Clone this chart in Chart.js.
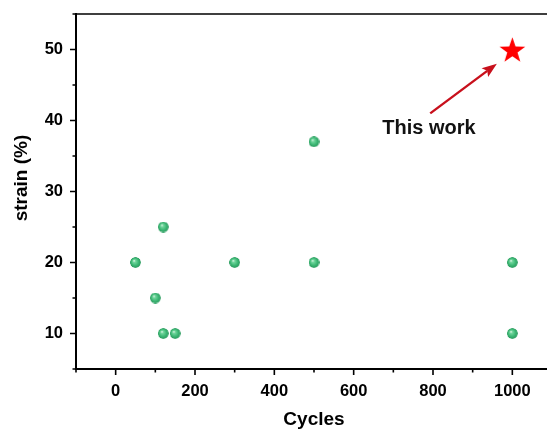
<!DOCTYPE html>
<html>
<head>
<meta charset="utf-8">
<script src="https://cdn.jsdelivr.net/npm/chart.js@4/dist/chart.umd.min.js"></script>
<style>
  html, body { margin: 0; padding: 0; background: #fff; overflow: hidden; }
  #wrap { width: 547px; height: 432px; overflow: hidden; position: relative; }
  #inner { width: 556px; height: 432px; position: absolute; left: 0; top: 0; }
  canvas { display: block; width: 556px; height: 432px; }
</style>
</head>
<body>
<div id="wrap"><div id="inner"><canvas id="c" width="556" height="432"></canvas></div></div>
<script>
// Reported cycle life vs. strain
const cycles = [50, 100, 120, 120, 150, 300, 500, 500, 1000, 1000];
const strain = [20, 15, 25, 10, 10, 20, 37, 20, 20, 10];

// Present result
const workCycles = [1000];
const workStrain = [50];

// Axis ticks
const xMajor = [0, 200, 400, 600, 800, 1000];
const xMinor = [-100, 100, 300, 500, 700, 900, 1100];
const yMajor = [10, 20, 30, 40, 50];
const yMinor = [5, 15, 25, 35, 45, 55];

const FONT = '"Liberation Sans", Arial, Helvetica, sans-serif';

// Glossy green sphere marker
function sphere(d) {
  const c = document.createElement('canvas');
  c.width = d; c.height = d;
  const g = c.getContext('2d');
  const r = d / 2;
  const grad = g.createRadialGradient(r * 0.72, r * 0.66, 0, r, r, r);
  grad.addColorStop(0, '#ecfbf2');
  grad.addColorStop(0.25, '#72d69d');
  grad.addColorStop(0.65, '#3db875');
  grad.addColorStop(0.92, '#2e9f62');
  grad.addColorStop(1, 'rgba(46,159,98,0.3)');
  g.fillStyle = grad;
  g.beginPath(); g.arc(r, r, r, 0, Math.PI * 2); g.fill();
  return c;
}

// Filled five-pointed star marker
function star5(R, color) {
  const s = Math.ceil(R * 2 + 2);
  const c = document.createElement('canvas');
  c.width = s; c.height = s;
  const g = c.getContext('2d');
  const cx = s / 2, cy = s / 2 + R * 0.1;
  const r = R * 0.4;
  g.fillStyle = color;
  g.beginPath();
  for (let i = 0; i < 10; i++) {
    const a = -Math.PI / 2 + i * Math.PI / 5;
    const rr = i % 2 === 0 ? R : r;
    const px = cx + rr * Math.cos(a), py = cy + rr * Math.sin(a);
    if (i === 0) g.moveTo(px, py); else g.lineTo(px, py);
  }
  g.closePath(); g.fill();
  return c;
}

// Annotation placed in data coordinates
const note = { text: 'This work', at: [790, 39], from: [793, 41], to: [961, 48] };

const framePlugin = {
  id: 'frame',
  afterDraw(chart) {
    const { ctx, chartArea: a, scales: { x, y } } = chart;
    ctx.save();
    ctx.strokeStyle = '#000';
    // top and right frame
    ctx.lineWidth = 1.5;
    ctx.beginPath();
    ctx.moveTo(a.left, a.top); ctx.lineTo(a.right, a.top); ctx.lineTo(a.right, a.bottom);
    ctx.stroke();
    // axis lines
    ctx.lineWidth = 2;
    ctx.beginPath();
    ctx.moveTo(a.left, a.top - 1); ctx.lineTo(a.left, a.bottom + 1);
    ctx.moveTo(a.left - 1, a.bottom); ctx.lineTo(a.right, a.bottom);
    ctx.stroke();
    // tick marks, pointing outward
    ctx.lineWidth = 1.6;
    ctx.beginPath();
    xMajor.forEach(v => { const px = x.getPixelForValue(v); ctx.moveTo(px, a.bottom); ctx.lineTo(px, a.bottom + 6); });
    xMinor.forEach(v => { const px = x.getPixelForValue(v); ctx.moveTo(px, a.bottom); ctx.lineTo(px, a.bottom + 3.5); });
    yMajor.forEach(v => { const py = y.getPixelForValue(v); ctx.moveTo(a.left, py); ctx.lineTo(a.left - 6, py); });
    yMinor.forEach(v => { const py = y.getPixelForValue(v); ctx.moveTo(a.left, py); ctx.lineTo(a.left - 3.5, py); });
    ctx.stroke();

    // axis titles
    ctx.fillStyle = '#000';
    ctx.font = 'bold 19px ' + FONT;
    ctx.textAlign = 'center';
    ctx.textBaseline = 'middle';
    ctx.fillText('Cycles', 314, 420);
    ctx.save();
    ctx.translate(22, 178);
    ctx.rotate(-Math.PI / 2);
    ctx.fillText('strain (%)', 0, 0);
    ctx.restore();

    // arrow pointing to the present result
    const x0 = x.getPixelForValue(note.from[0]), y0 = y.getPixelForValue(note.from[1]);
    const x1 = x.getPixelForValue(note.to[0]), y1 = y.getPixelForValue(note.to[1]);
    const ang = Math.atan2(y1 - y0, x1 - x0);
    const hl = 15, hw = 5.5;
    const bx = x1 - hl * Math.cos(ang), by = y1 - hl * Math.sin(ang);
    ctx.strokeStyle = '#c8101c';
    ctx.fillStyle = '#c8101c';
    ctx.lineWidth = 2.4;
    ctx.beginPath(); ctx.moveTo(x0, y0); ctx.lineTo(bx + 3 * Math.cos(ang), by + 3 * Math.sin(ang)); ctx.stroke();
    ctx.beginPath();
    ctx.moveTo(x1, y1);
    ctx.lineTo(bx + hw * Math.sin(ang), by - hw * Math.cos(ang));
    ctx.lineTo(bx + 3 * Math.cos(ang), by + 3 * Math.sin(ang));
    ctx.lineTo(bx - hw * Math.sin(ang), by + hw * Math.cos(ang));
    ctx.closePath(); ctx.fill();

    // label
    ctx.fillStyle = '#111';
    ctx.font = 'bold 20px ' + FONT;
    ctx.textAlign = 'center';
    ctx.textBaseline = 'middle';
    ctx.fillText(note.text, x.getPixelForValue(note.at[0]), y.getPixelForValue(note.at[1]) + 1);
    ctx.restore();
  }
};

const ball = sphere(11);
const redStar = star5(13.5, '#ff0000');

function noPad(s) {
  s.paddingLeft = 0; s.paddingRight = 0; s.paddingTop = 0; s.paddingBottom = 0;
}

new Chart(document.getElementById('c'), {
  type: 'scatter',
  data: {
    datasets: [
      {
        data: cycles.map((c, i) => ({ x: c, y: strain[i] })),
        pointStyle: ball,
        pointRadius: 5.5,
        pointHoverRadius: 5.5
      },
      {
        data: workCycles.map((c, i) => ({ x: c, y: workStrain[i] })),
        pointStyle: redStar,
        pointRadius: 14,
        pointHoverRadius: 14
      }
    ]
  },
  options: {
    responsive: false,
    animation: false,
    devicePixelRatio: 1,
    layout: { autoPadding: false, padding: { top: 14, right: 4, left: 0, bottom: 0 } },
    plugins: { legend: { display: false }, tooltip: { enabled: false } },
    scales: {
      x: {
        type: 'linear',
        min: -100, max: 1100,
        grid: { display: false, drawTicks: false },
        border: { display: false },
        afterBuildTicks: s => { s.ticks = xMajor.map(v => ({ value: v })); },
        afterFit: s => { s.height = 63; noPad(s); },
        ticks: {
          color: '#000', padding: 13, maxRotation: 0,
          font: { family: FONT, size: 16.5, weight: 'bold' },
          callback: v => String(v)
        }
      },
      y: {
        type: 'linear',
        min: 5, max: 55,
        grid: { display: false, drawTicks: false },
        border: { display: false },
        afterBuildTicks: s => { s.ticks = yMajor.map(v => ({ value: v })); },
        afterFit: s => { s.width = 76; noPad(s); },
        ticks: {
          color: '#000', padding: 13,
          font: { family: FONT, size: 16.5, weight: 'bold' },
          callback: v => String(v)
        }
      }
    }
  },
  plugins: [framePlugin]
});
</script>
</body>
</html>
